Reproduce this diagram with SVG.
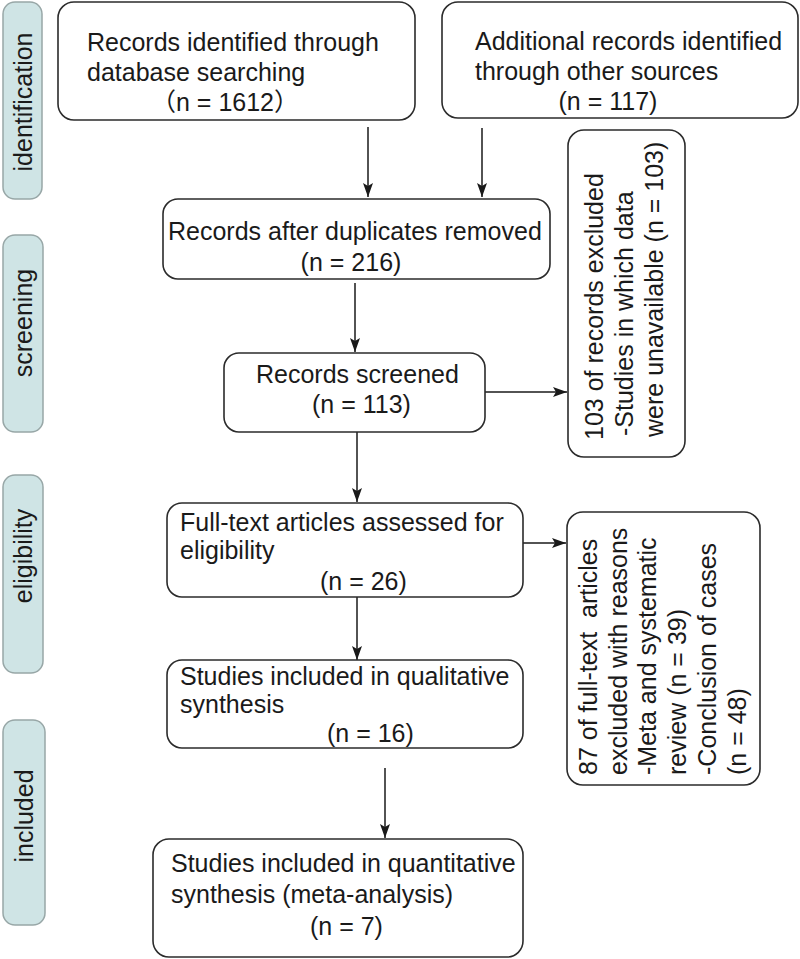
<svg xmlns="http://www.w3.org/2000/svg" width="800" height="959" viewBox="0 0 800 959">
<style>
  text { font-family: "Liberation Sans", Arial, "Noto Sans CJK SC", sans-serif; font-size: 25px; fill: #1a1a1a; }
  .box { fill: #ffffff; stroke: #2b2b2b; stroke-width: 1.6; }
  .side { fill: #cfe4e5; stroke: #98a7a7; stroke-width: 1.5; }
  .conn { stroke: #1a1a1a; stroke-width: 1.5; fill: none; marker-end: url(#ah); }
  .mid { text-anchor: middle; }
</style>
<defs>
  <marker id="ah" viewBox="0 0 14 10" refX="14" refY="5" markerWidth="14" markerHeight="10" markerUnits="userSpaceOnUse" orient="auto">
    <path d="M0,0 L14,5 L0,10 L3,5 Z" fill="#1a1a1a"/>
  </marker>
</defs>
<rect width="800" height="959" fill="#ffffff"/>

<g id="side-identification">
  <rect class="side" x="3" y="2" width="39" height="197" rx="12"/>
  <text class="mid" transform="translate(32 102) rotate(-90)">identification</text>
</g>
<g id="side-screening">
  <rect class="side" x="3" y="235" width="40" height="197" rx="12"/>
  <text class="mid" transform="translate(32 323) rotate(-90)">screening</text>
</g>
<g id="side-eligibility">
  <rect class="side" x="3" y="475" width="40" height="198" rx="12"/>
  <text class="mid" transform="translate(32 556) rotate(-90)">eligibility</text>
</g>
<g id="side-included">
  <rect class="side" x="3" y="720" width="42" height="205" rx="12"/>
  <text class="mid" transform="translate(33 816) rotate(-90)">included</text>
</g>

<g id="connectors">
  <line class="conn" x1="368" y1="127" x2="368" y2="197"/>
  <line class="conn" x1="482" y1="128" x2="482" y2="197"/>
  <line class="conn" x1="355" y1="283" x2="355" y2="352"/>
  <line class="conn" x1="485" y1="392" x2="567" y2="392"/>
  <line class="conn" x1="357" y1="432" x2="357" y2="502"/>
  <line class="conn" x1="523" y1="543" x2="566" y2="543"/>
  <line class="conn" x1="357" y1="597" x2="357" y2="660"/>
  <line class="conn" x1="385" y1="768" x2="385" y2="838"/>
</g>

<g id="node-database">
  <rect class="box" x="58" y="2" width="357" height="118" rx="16"/>
  <text x="87" y="51">Records identified through</text>
  <text x="87" y="81">database searching</text>
  <text class="mid" x="225" y="111">（n = 1612）</text>
</g>
<g id="node-other">
  <rect class="box" x="442" y="2" width="356" height="116" rx="16"/>
  <text x="475" y="50">Additional records identified</text>
  <text x="475" y="80">through other sources</text>
  <text class="mid" x="608" y="110">(n = 117)</text>
</g>
<g id="node-duplicates">
  <rect class="box" x="163" y="199" width="387" height="80" rx="15"/>
  <text x="168" y="240">Records after duplicates removed</text>
  <text class="mid" x="351" y="271">(n = 216)</text>
</g>
<g id="node-screened">
  <rect class="box" x="224" y="353" width="261" height="79" rx="15"/>
  <text x="256" y="383">Records screened</text>
  <text x="312" y="413">(n = 113)</text>
</g>
<g id="node-excluded1">
  <rect class="box" x="568" y="130" width="117" height="327" rx="16"/>
  <text transform="translate(603 440) rotate(-90)">103 of records excluded</text>
  <text transform="translate(633 436) rotate(-90)">-Studies in which data</text>
  <text transform="translate(663 437) rotate(-90)">were unavailable (n = 103)</text>
</g>
<g id="node-fulltext">
  <rect class="box" x="167" y="503" width="356" height="94" rx="15"/>
  <text x="180" y="531">Full-text articles assessed for</text>
  <text x="180" y="559">eligibility</text>
  <text x="320" y="590">(n = 26)</text>
</g>
<g id="node-excluded2">
  <rect class="box" x="567" y="512" width="193" height="273" rx="16"/>
  <text style="white-space:pre" transform="translate(597 775) rotate(-90)">87 of full-text  articles</text>
  <text transform="translate(627 775) rotate(-90)">excluded with reasons</text>
  <text transform="translate(656 775) rotate(-90)">-Meta and systematic</text>
  <text transform="translate(686 775) rotate(-90)">review (n = 39)</text>
  <text transform="translate(716 775) rotate(-90)">-Conclusion of cases</text>
  <text transform="translate(746 775) rotate(-90)">(n = 48)</text>
</g>
<g id="node-qualitative">
  <rect class="box" x="167" y="660" width="356" height="88" rx="15"/>
  <text x="180" y="685">Studies included in qualitative</text>
  <text x="180" y="713">synthesis</text>
  <text x="327" y="742">(n = 16)</text>
</g>
<g id="node-quantitative">
  <rect class="box" x="153" y="839" width="370" height="118" rx="16"/>
  <text x="171" y="872">Studies included in quantitative</text>
  <text x="171" y="903">synthesis (meta-analysis)</text>
  <text x="310" y="935">(n = 7)</text>
</g>
</svg>
